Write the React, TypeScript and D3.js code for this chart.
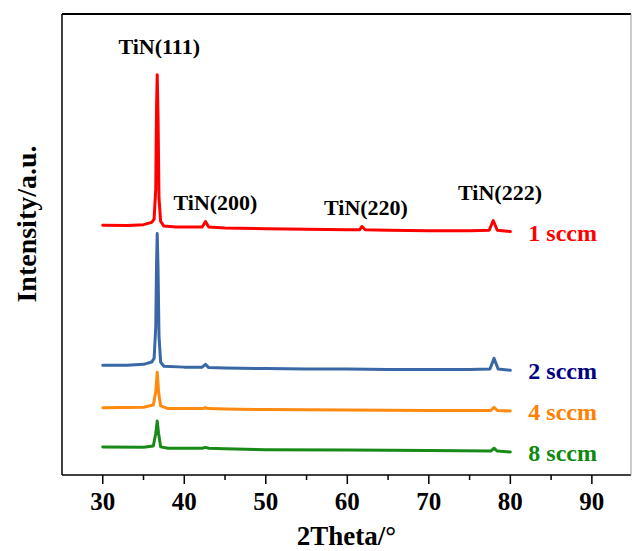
import React from "react";
import * as d3 from "d3";

const W = 632;
const H = 551;

// x-axis
const xDomain = [25, 94.8];
const xMajorTicks = [30, 40, 50, 60, 70, 80, 90];
const xMinorTicks = [35, 45, 55, 65, 75, 85];

// series (2θ, intensity a.u., offset-stacked)
const theta1 = [30, 33, 35, 36.0, 36.3, 36.5, 36.6, 36.68, 36.78, 36.9, 37.1, 37.5, 39, 42.2, 42.6, 43.0, 45, 50, 55, 60, 61.5, 61.8, 62.2, 65, 70, 75, 77.4, 77.9, 78.4, 80];
const sccm1 = [54.2, 54.1, 54.3, 54.8, 55.5, 62, 80, 86.8, 78, 60, 55, 54.0, 53.8, 53.8, 55.0, 53.8, 53.6, 53.4, 53.3, 53.2, 53.2, 53.9, 53.2, 53.1, 53.0, 53.0, 53.1, 55.2, 53.1, 52.8];

const theta2 = [30, 33, 35, 36.0, 36.3, 36.5, 36.6, 36.68, 36.78, 36.9, 37.1, 37.5, 40, 42.2, 42.6, 43.0, 45, 50, 55, 60, 65, 70, 75, 77.5, 78.0, 78.5, 80];
const sccm2 = [23.8, 23.8, 24.0, 24.5, 25.3, 32, 46, 52.4, 45, 30, 24.5, 23.6, 23.4, 23.4, 24.0, 23.3, 23.2, 23.1, 23.0, 23.0, 22.9, 22.9, 22.9, 23.0, 25.3, 23.0, 22.7];

const theta4 = [30, 35, 36.2, 36.5, 36.68, 36.85, 37.1, 38, 42.2, 42.6, 43.0, 45, 50, 60, 70, 77.6, 78.0, 78.4, 80];
const sccm4 = [14.6, 14.7, 15.2, 18, 22.3, 18, 15.0, 14.4, 14.4, 14.6, 14.4, 14.3, 14.2, 14.1, 14.0, 14.0, 14.7, 14.0, 13.9];

const theta8 = [30, 35, 36.2, 36.5, 36.68, 36.85, 37.1, 38, 42.2, 42.6, 43.0, 45, 50, 60, 70, 77.6, 78.0, 78.4, 80];
const sccm8 = [6.1, 6.0, 6.3, 9, 11.7, 9, 6.1, 5.8, 5.8, 6.0, 5.8, 5.7, 5.5, 5.4, 5.3, 5.2, 5.8, 5.2, 5.0];

const seriesNames = ["1 sccm", "2 sccm", "4 sccm", "8 sccm"];
const lineColors = ["#FF0000", "#3A68A6", "#FF8A10", "#188A18"];
const labelColors = ["#FF0000", "#000080", "#FF8000", "#0E8A0E"];

const peakLabels = ["TiN(111)", "TiN(200)", "TiN(220)", "TiN(222)"];
const peakTheta = [36.68, 42.6, 61.8, 78.0];
const peakLabelValue = [91.3, 57.5, 56.5, 59.7];
const peakLabelDx = [2, 10, 4, 6];

export default function App() {
  const left = 62, right = 631, top = 14, bottom = 475;
  const x = d3.scaleLinear().domain(xDomain).range([left, right]);
  const y = d3.scaleLinear().domain([0, 100]).range([bottom, top]);

  const data = [
    theta1.map((t, i) => [t, sccm1[i]]),
    theta2.map((t, i) => [t, sccm2[i]]),
    theta4.map((t, i) => [t, sccm4[i]]),
    theta8.map((t, i) => [t, sccm8[i]]),
  ] as [number, number][][];

  const line = d3
    .line<[number, number]>()
    .x((d) => x(d[0]))
    .y((d) => y(d[1]));

  const font = "'Liberation Serif', 'Times New Roman', serif";

  return (
    <svg width={W} height={H} style={{ position: "absolute", left: 0, top: 0 }} fontFamily={font} fontWeight="bold">
      <rect x={0} y={0} width={W} height={H} fill="#fff" />
      {data.map((d, i) => (
        <path key={i} d={line(d) || ""} fill="none" stroke={lineColors[i]} strokeWidth={3} strokeLinejoin="round" strokeLinecap="round" />
      ))}
      {/* frame */}
      <line x1={left} y1={top} x2={right} y2={top} stroke="#000" strokeWidth={1.8} />
      <line x1={left} y1={top} x2={left} y2={bottom} stroke="#000" strokeWidth={1.5} />
      <line x1={left} y1={bottom} x2={right} y2={bottom} stroke="#000" strokeWidth={1.5} />
      <line x1={right} y1={top} x2={right} y2={bottom} stroke="#999" strokeWidth={1} />
      {xMajorTicks.map((t) => (
        <g key={t}>
          <line x1={x(t)} x2={x(t)} y1={bottom} y2={bottom + 9} stroke="#000" strokeWidth={1.5} />
          <text x={x(t)} y={510} textAnchor="middle" fontSize={25}>{t}</text>
        </g>
      ))}
      {xMinorTicks.map((t) => (
        <line key={t} x1={x(t)} x2={x(t)} y1={bottom} y2={bottom + 5} stroke="#000" strokeWidth={1.5} />
      ))}
      <text x={(left + right) / 2} y={545} textAnchor="middle" fontSize={27}>2Theta/°</text>
      <text transform={`translate(36, 224) rotate(-90)`} textAnchor="middle" fontSize={28}>Intensity/a.u.</text>
      {peakLabels.map((s, i) => (
        <text key={s} x={x(peakTheta[i]) + peakLabelDx[i]} y={y(peakLabelValue[i])} textAnchor="middle" fontSize={22} fill="#000">{s}</text>
      ))}
      {seriesNames.map((s, i) => {
        const d = data[i];
        const last = d[d.length - 1];
        return (
          <text key={s} x={x(last[0]) + 18} y={y(last[1]) + 9} fontSize={24} fill={labelColors[i]}>{s}</text>
        );
      })}
    </svg>
  );
}
